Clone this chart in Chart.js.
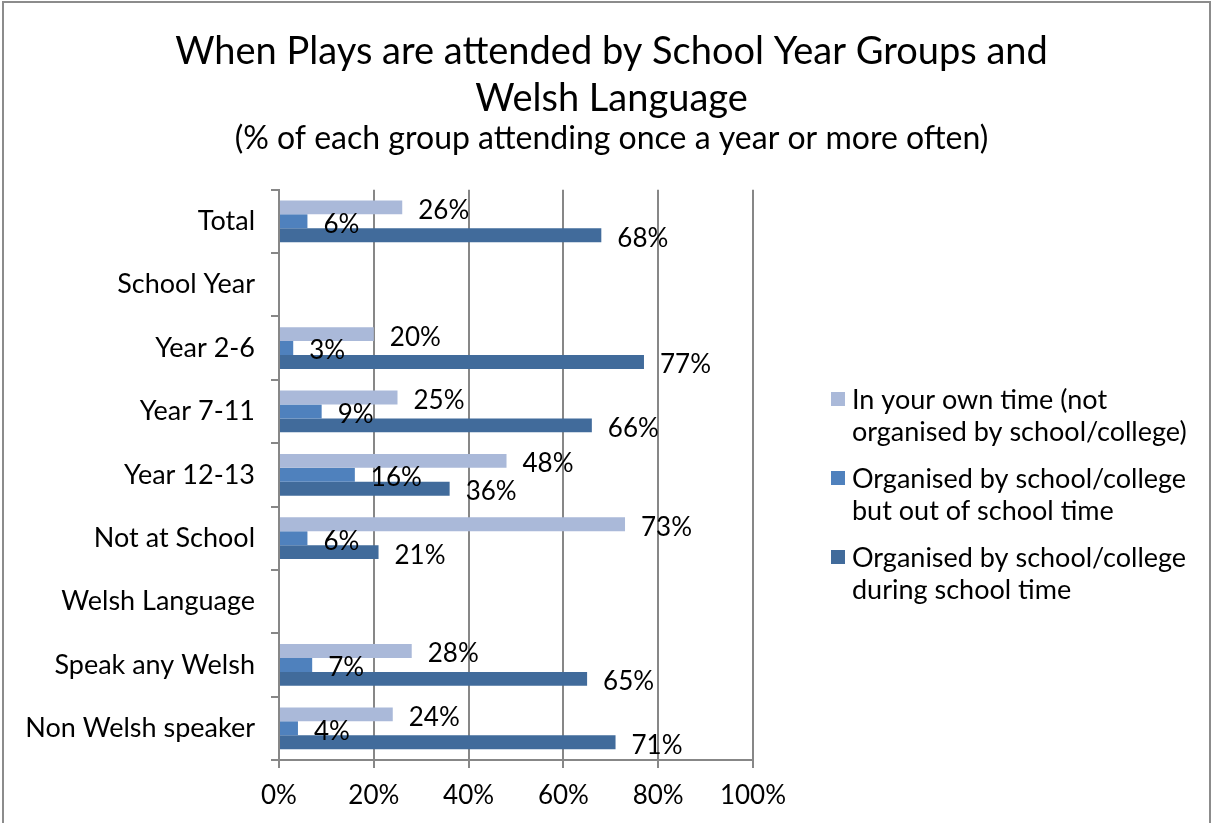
<!DOCTYPE html>
<html>
<head>
<meta charset="utf-8">
<title>When Plays are attended</title>
<script src="https://cdn.jsdelivr.net/npm/chart.js@4/dist/chart.umd.min.js"></script>
<style>
  body { margin: 0; background: #fff; }
  #wrap { width: 1213px; height: 823px; }
</style>
</head>
<body>
<div id="wrap"><canvas id="playsChart" width="1213" height="823"></canvas></div>
<script>
// groups down the axis (blank rows are section headings)
var groupLabels = ["Total", "School Year", "Year 2-6", "Year 7-11", "Year 12-13", "Not at School", "Welsh Language", "Speak any Welsh", "Non Welsh speaker"];

// % attending once a year or more often
var ownTime = [26, null, 20, 25, 48, 73, null, 28, 24];
var schoolOutOfHours = [6, null, 3, 9, 16, 6, null, 7, 4];
var schoolDuringHours = [68, null, 77, 66, 36, 21, null, 65, 71];

var seriesNames = [
    ["In your own time (not", "organised by school/college)"],
    ["Organised by school/college", "but out of school time"],
    ["Organised by school/college", "during school time"]
];
var seriesColours = ["#AAB9D9", "#4F81BD", "#416B9B"];

var xTicks = [0, 20, 40, 60, 80, 100];

var bodyFont = 'Futura, "Century Gothic", Lato, sans-serif';
var gridGrey = "#878787";

// value labels just past the end of each bar
var barLabels = {
    id: 'barLabels',
    afterDatasetsDraw: function (chart) {
        var ctx = chart.ctx;
        ctx.save();
        ctx.font = '26px ' + bodyFont;
        ctx.fillStyle = '#000';
        ctx.textAlign = 'left';
        ctx.textBaseline = 'middle';
        chart.data.datasets.forEach(function (ds, i) {
            var meta = chart.getDatasetMeta(i);
            meta.data.forEach(function (bar, j) {
                if (ds.data[j] == null) return;
                ctx.fillText(ds.data[j] + '%', bar.x + 16, bar.y + 3);
            });
        });
        ctx.restore();
    }
};

// legend on the right with two-line entries
var sideLegend = {
    id: 'sideLegend',
    afterDraw: function (chart) {
        var ctx = chart.ctx;
        var x = 831, y = 392;
        ctx.save();
        ctx.font = '27px ' + bodyFont;
        ctx.textAlign = 'left';
        ctx.textBaseline = 'middle';
        chart.data.datasets.forEach(function (ds, i) {
            ctx.fillStyle = ds.backgroundColor;
            ctx.fillRect(x, y, 14, 14);
            ctx.fillStyle = '#000';
            ds.label.forEach(function (line, k) {
                ctx.fillText(line, x + 21, y + 8 + k * 32);
            });
            y += 79;
        });
        ctx.restore();
    }
};

// outer chart frame
var frame = {
    id: 'frame',
    beforeDraw: function (chart) {
        var ctx = chart.ctx;
        ctx.save();
        ctx.strokeStyle = '#8c8c8c';
        ctx.lineWidth = 2;
        ctx.beginPath();
        ctx.moveTo(3, 830);
        ctx.lineTo(3, 2);
        ctx.lineTo(1210, 2);
        ctx.lineTo(1210, 830);
        ctx.stroke();
        ctx.restore();
    }
};

new Chart(document.getElementById("playsChart"), {
    type: 'bar',
    data: {
        labels: groupLabels,
        datasets: [
            { label: seriesNames[0], data: ownTime, backgroundColor: seriesColours[0] },
            { label: seriesNames[1], data: schoolOutOfHours, backgroundColor: seriesColours[1] },
            { label: seriesNames[2], data: schoolDuringHours, backgroundColor: seriesColours[2] }
        ]
    },
    options: {
        indexAxis: 'y',
        responsive: false,
        animation: false,
        categoryPercentage: 0.66,
        barPercentage: 1,
        layout: { padding: { left: 10, right: 0, bottom: 0, top: 0 } },
        plugins: {
            legend: { display: false },
            tooltip: { enabled: false },
            title: {
                display: true,
                text: ["When Plays are attended by School Year Groups and", "Welsh Language"],
                color: '#000',
                font: { family: bodyFont, size: 38, weight: 'normal', lineHeight: 1.24 },
                padding: { top: 28, bottom: 0 }
            },
            subtitle: {
                display: true,
                text: "(% of each group attending once a year or more often)",
                color: '#000',
                font: { family: bodyFont, size: 32, lineHeight: 0.95 },
                padding: { top: 1, bottom: 36 }
            }
        },
        scales: {
            x: {
                min: 0,
                max: 100,
                afterBuildTicks: function (scale) {
                    scale.ticks = xTicks.map(function (v) { return { value: v }; });
                },
                afterFit: function (scale) { scale.height = 63; },
                grid: { color: gridGrey, lineWidth: 2, tickLength: 8 },
                border: { color: gridGrey, width: 2 },
                ticks: {
                    color: '#000',
                    padding: 12,
                    font: { family: bodyFont, size: 26 },
                    callback: function (v) { return v + '%'; }
                }
            },
            y: {
                afterFit: function (scale) { scale.width = 269; },
                grid: { drawOnChartArea: false, color: gridGrey, lineWidth: 2, tickLength: 8 },
                border: { color: gridGrey, width: 2 },
                ticks: {
                    color: '#000',
                    padding: 16,
                    font: { family: bodyFont, size: 27 }
                }
            },
            // empty right-hand axis that keeps room for the legend
            legendSpace: {
                type: 'category',
                position: 'right',
                afterFit: function (scale) { scale.width = 460; },
                grid: { display: false },
                border: { display: false },
                ticks: { display: false }
            }
        }
    },
    plugins: [frame, barLabels, sideLegend]
});
</script>
</body>
</html>
